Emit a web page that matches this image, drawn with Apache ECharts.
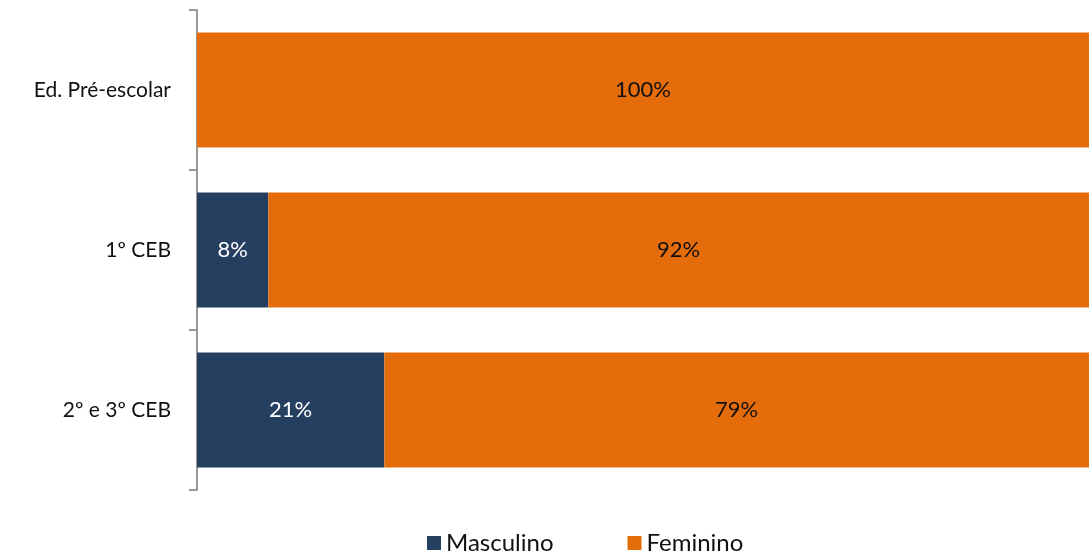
<!DOCTYPE html>
<html><head><meta charset="utf-8">
<script src="https://cdn.jsdelivr.net/npm/echarts@6/dist/echarts.min.js"></script>
<style>html,body{margin:0;padding:0;background:#fff}#c{width:1089px;height:557px}</style>
</head><body><div id="c"></div>
<script>
const categories = ['Ed. Pré-escolar', '1º CEB', '2º e 3º CEB'];
const masculino = [0, 8, 21];
const feminino = [100, 92, 79];
const seriesNames = ['Masculino', 'Feminino'];

const chart = echarts.init(document.getElementById('c'));
const fontFam = 'Lato, "Open Sans", sans-serif';
const lbl = (color) => ({
  show: true, position: 'inside', color: color, fontSize: 22, fontFamily: fontFam,
  formatter: p => p.value > 0 ? p.value + '%' : ''
});
chart.setOption({
  animation: false,
  grid: { left: 197, right: 0, top: 10, height: 480 },
  legend: {
    top: 526, left: 422, itemWidth: 14, itemHeight: 14, itemGap: 74,
    icon: 'rect',
    textStyle: { fontSize: 24, fontFamily: fontFam, color: '#111' },
    data: seriesNames
  },
  xAxis: { type: 'value', min: 0, max: 100, show: false },
  yAxis: {
    type: 'category', data: categories, inverse: true,
    axisLine: { show: true, lineStyle: { color: '#999', width: 2 } },
    axisTick: { show: true, length: 8, lineStyle: { color: '#999', width: 2 } },
    axisLabel: { fontSize: 21, fontFamily: fontFam, color: '#111', margin: 26 }
  },
  series: [
    { name: seriesNames[0], type: 'bar', stack: 's', data: masculino, barWidth: 115,
      itemStyle: { color: '#253F60' }, label: lbl('#fff') },
    { name: seriesNames[1], type: 'bar', stack: 's', data: feminino, barWidth: 115,
      itemStyle: { color: '#E46C0A' }, label: lbl('#111') }
  ]
});
</script></body></html>
